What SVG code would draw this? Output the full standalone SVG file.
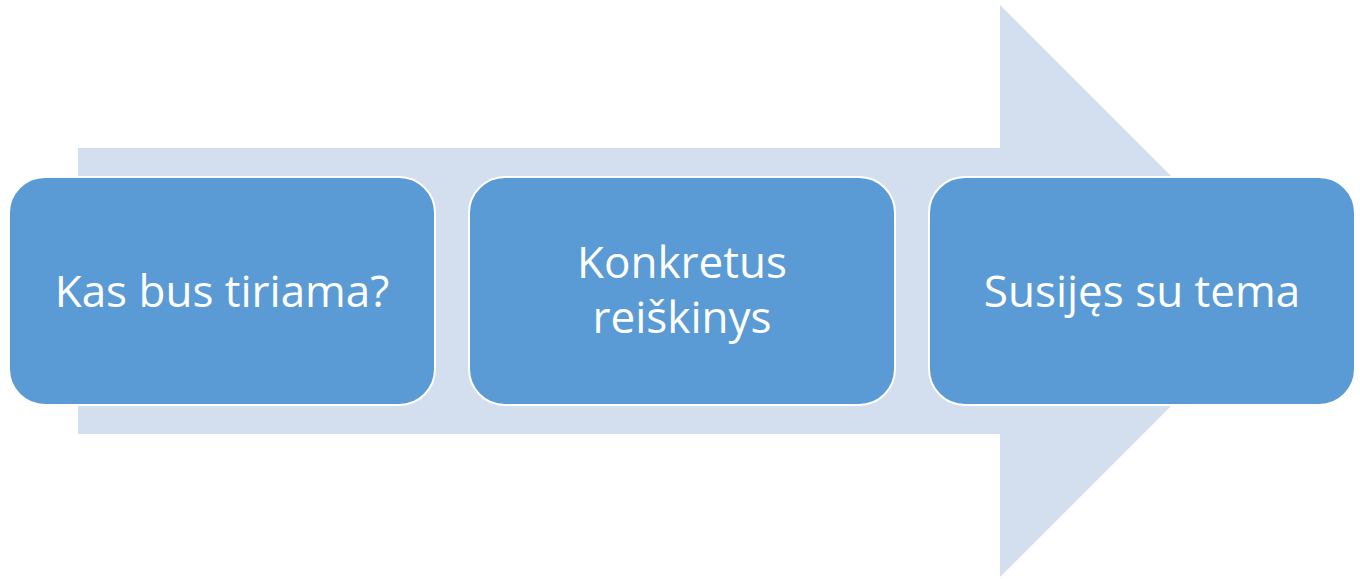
<svg xmlns="http://www.w3.org/2000/svg" width="1360" height="579" viewBox="0 0 1360 579">
<style>
.box{fill:#5B9BD5;stroke:#FFFFFF;stroke-width:2}
.t{font-family:"Open Sans","Liberation Sans",sans-serif;font-size:44px;fill:#FFFFFF;text-anchor:middle}
</style>
<rect width="1360" height="579" fill="#FFFFFF"/>
<g id="arrow">
<polygon points="78,148 1000,148 1000,5 1286,291 1000,577 1000,434 78,434" fill="#D3DEEF"/>
</g>
<g id="n1">
<rect class="box" x="9" y="177" width="426" height="228" rx="36"/>
<text class="t" x="222" y="307">Kas bus tiriama?</text>
</g>
<g id="n2">
<rect class="box" x="469" y="177" width="426" height="228" rx="36"/>
<text class="t" x="682" y="278">Konkretus</text>
<text class="t" x="682" y="333">reiškinys</text>
</g>
<g id="n3">
<rect class="box" x="929" y="177" width="426" height="228" rx="36"/>
<text class="t" x="1142" y="307">Susijęs su tema</text>
</g>
<g id="connectors"></g>
</svg>
